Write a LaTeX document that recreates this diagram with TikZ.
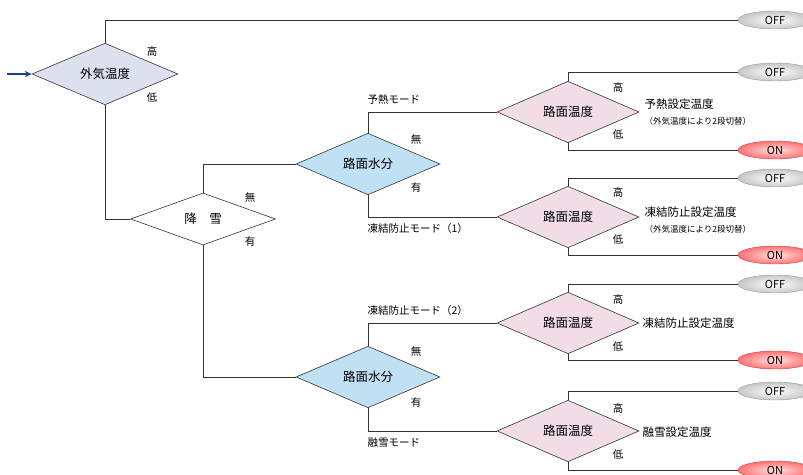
\documentclass[tikz,border=0pt]{standalone}
\usepackage{fontspec}
\setmainfont{Noto Sans CJK JP}
\usetikzlibrary{shapes.geometric,arrows.meta}

\definecolor{outerblue}{HTML}{DDE1EF}
\definecolor{wetblue}{HTML}{BFE1F3}
\definecolor{roadpink}{HTML}{F1DDE7}
\definecolor{arrowblue}{HTML}{1F3F8A}

\tikzset{
    decide/.style={diamond, draw=black!80, semithick, inner sep=0pt,
        minimum width=144pt, minimum height=52pt, font=\fontsize{12.5}{12.5}\selectfont},
    offbox/.style={ellipse, draw=black!40, inner sep=0pt, minimum width=74pt,
        minimum height=18pt, inner color=white, outer color=black!22,
        font=\fontsize{11}{11}\selectfont},
    onbox/.style={ellipse, draw=red!60!black!70, inner sep=0pt, minimum width=74pt,
        minimum height=18pt, inner color=red!12, outer color=red!55,
        font=\fontsize{11}{11}\selectfont},
    branch/.style={font=\fontsize{10.5}{10.5}\selectfont},
    modetext/.style={anchor=west, font=\fontsize{10.5}{10.5}\selectfont},
    settext/.style={anchor=west, font=\fontsize{11.5}{11.5}\selectfont},
    subtext/.style={anchor=west, font=\fontsize{8.5}{8.5}\selectfont},
    wire/.style={draw=black!80, semithick}
}

\begin{document}
\begin{tikzpicture}[x=1pt, y=-1pt]
    \useasboundingbox (0,0) rectangle (803,474);

    % decisions
    \node[decide, fill=outerblue, minimum width=146pt] (outer) at (105,74) {外気温度};
    \node[decide, fill=white, minimum width=145pt] (snow) at (203,219) {降\hspace{1em}雪};
    \node[decide, fill=wetblue] (wetA) at (368,164) {路面水分};
    \node[decide, fill=wetblue, minimum height=54pt] (wetB) at (368,377) {路面水分};
    \node[decide, fill=roadpink, minimum width=142pt] (roadA) at (568,112) {路面温度};
    \node[decide, fill=roadpink, minimum width=142pt] (roadB) at (568,217) {路面温度};
    \node[decide, fill=roadpink, minimum width=142pt] (roadC) at (568,323) {路面温度};
    \node[decide, fill=roadpink, minimum width=142pt] (roadD) at (568,431) {路面温度};

    % results
    \node[offbox] (off0) at (775,20) {OFF};
    \node[offbox] (offA) at (775,72) {OFF};
    \node[onbox]  (onA)  at (775,150) {ON};
    \node[offbox] (offB) at (775,178) {OFF};
    \node[onbox]  (onB)  at (775,255) {ON};
    \node[offbox] (offC) at (775,284) {OFF};
    \node[onbox]  (onC)  at (775,360) {ON};
    \node[offbox] (offD) at (775,391) {OFF};
    \node[onbox]  (onD)  at (775,470) {ON};

    % input arrow
    \coordinate (start) at (7,74);
    \draw[arrowblue, line width=1.4pt, -{Stealth[length=7pt,width=6pt]}] (start) -- (outer.west);

    % connectors
    \draw[wire] (outer.north) |- (off0.west);
    \draw[wire] (outer.south) |- (snow.west);
    \draw[wire] (snow.north) |- (wetA.west);
    \draw[wire] (snow.south) |- (wetB.west);
    \draw[wire] (wetA.north) |- (roadA.west);
    \draw[wire] (wetA.south) |- (roadB.west);
    \draw[wire] (wetB.north) |- (roadC.west);
    \draw[wire] (wetB.south) |- (roadD.west);
    \draw[wire] (roadA.north) |- (offA.west);
    \draw[wire] (roadA.south) |- (onA.west);
    \draw[wire] (roadB.north) |- (offB.west);
    \draw[wire] (roadB.south) |- (onB.west);
    \draw[wire] (roadC.north) |- (offC.west);
    \draw[wire] (roadC.south) |- (onC.west);
    \draw[wire] (roadD.north) |- (offD.west);
    \draw[wire] (roadD.south) |- (onD.west);

    % branch labels
    \node[branch] (outerhi) at (152,52) {高};
    \node[branch] (outerlo) at (152,98) {低};
    \node[branch] (snowno) at (250,198) {無};
    \node[branch] (snowyes) at (250,242) {有};
    \node[branch] (wetAno) at (416,140) {無};
    \node[branch] (wetAyes) at (416,188) {有};
    \node[branch] (wetBno) at (416,352) {無};
    \node[branch] (wetByes) at (416,402) {有};
    \node[branch] (roadAhi) at (618,88) {高};
    \node[branch] (roadAlo) at (618,135) {低};
    \node[branch] (roadBhi) at (618,193) {高};
    \node[branch] (roadBlo) at (618,240) {低};
    \node[branch] (roadChi) at (618,299) {高};
    \node[branch] (roadClo) at (618,347) {低};
    \node[branch] (roadDhi) at (618,408) {高};
    \node[branch] (roadDlo) at (618,455) {低};

    % mode labels
    \node[modetext] (modeA) at (364,100) {予熱モード};
    \node[modetext] (modeB) at (364,229) {凍結防止モード（1）};
    \node[modetext] (modeC) at (364,311) {凍結防止モード（2）};
    \node[modetext] (modeD) at (364,443) {融雪モード};

    % set temperatures
    \node[settext] (setA) at (641,104) {予熱設定温度};
    \node[subtext] (setAsub) at (641,121) {（外気温度により2段切替）};
    \node[settext] (setB) at (641,212) {凍結防止設定温度};
    \node[subtext] (setBsub) at (641,229) {（外気温度により2段切替）};
    \node[settext] (setC) at (639,323) {凍結防止設定温度};
    \node[settext] (setD) at (639,432) {融雪設定温度};
\end{tikzpicture}
\end{document}
